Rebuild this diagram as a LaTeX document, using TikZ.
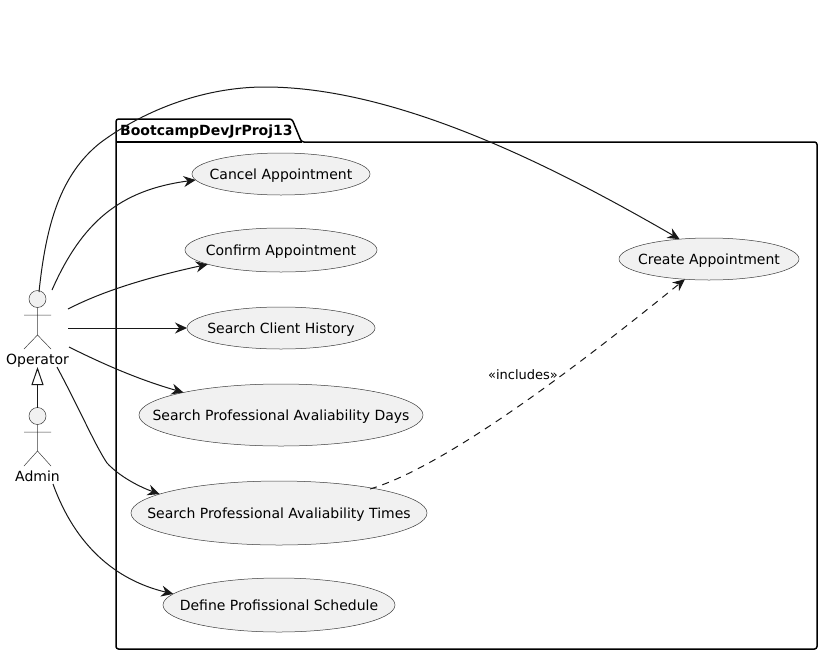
\documentclass[tikz,border=0pt]{standalone}
\usepackage{fontspec}
\setmainfont{DejaVu Sans}
\usetikzlibrary{shapes.geometric,arrows.meta}
\definecolor{umlfill}{HTML}{F1F1F1}
\definecolor{umlline}{HTML}{181818}
\definecolor{umledge}{HTML}{3C3C3C}
\tikzset{
  usecase/.style={ellipse,draw=umledge,fill=umlfill,line width=0.5pt,inner sep=0pt,outer sep=0pt},
  casetext/.style={inner sep=0pt,anchor=base,font=\fontsize{14}{16}\selectfont,text=black},
  actorpart/.style={draw=umledge,line width=0.5pt},
  actorhead/.style={circle,draw=umledge,fill=umlfill,line width=0.5pt,minimum size=17pt,inner sep=0pt,outer sep=0pt},
  actorname/.style={inner sep=0pt,anchor=base,font=\fontsize{14}{16}\selectfont},
  link/.style={draw=umlline,line width=1pt,-{Stealth[length=12pt,width=11pt,inset=4pt]}},
  dep/.style={link,dash pattern=on 7pt off 6pt},
  inherit/.style={draw=umlline,line width=1pt,-{Triangle[open,length=18pt,width=12pt,fill=white]}},
  pkg/.style={draw=black,line width=1.5pt,line join=round,rounded corners=2.5pt}
}
\newcommand{\ucase}[6]{%
  \node[usecase,minimum width=#4pt,minimum height=#5pt] (#1) at (#2,#3) {};
  \node[casetext] (#1text) at ([yshift=-5pt]#1.center) {#6};
}
\begin{document}
\begin{tikzpicture}[x=1pt,y=-1pt]
\useasboundingbox (0,0) rectangle (822,654);
\fill[white] (0,0) rectangle (822,654);
% package
\draw[pkg] (116,142) -- (116,119) -- (292,119) -- (301.5,142) -- (817,142) -- (817,649) -- (116,649) -- cycle;
\draw[pkg,rounded corners=0pt] (116,142) -- (301.5,142);
\node[inner sep=0pt,anchor=base west,font=\fontsize{14}{16}\selectfont\bfseries] (pkgname) at (120,135) {BootcampDevJrProj13};
% use cases
\ucase{cancel}{281}{174}{178}{42}{Cancel Appointment}
\ucase{confirm}{281}{250}{192}{44}{Confirm Appointment}
\ucase{history}{281}{328}{188}{42}{Search Client History}
\ucase{days}{281}{415}{284}{62}{Search Professional Avaliability Days}
\ucase{times}{279}{513}{296}{64}{Search Professional Avaliability Times}
\ucase{define}{279}{605}{232}{54}{Define Profissional Schedule}
\ucase{create}{709}{259}{180}{42}{Create Appointment}
% actors
\node[actorhead] (ophead) at (37.5,299) {};
\draw[actorpart] (ophead.south) -- (37.5,335) -- (24,349) (37.5,335) -- (51,349) (24,315) -- (51,315);
\node[actorname] (operator) at (37.5,364) {Operator};
\node[actorhead] (adhead) at (37.5,416) {};
\draw[actorpart] (adhead.south) -- (37.5,451) -- (24,466) (37.5,451) -- (51,466) (24,432) -- (51,432);
\node[actorname] (admin) at (37.5,481) {Admin};
% free ends
\coordinate (o1) at (39,292);
\coordinate (o2) at (52,290);
\coordinate (o3) at (68,309);
\coordinate (o4) at (68,328);
\coordinate (o5) at (69,347);
\coordinate (o6) at (57,367);
\coordinate (a1) at (53,484);
\coordinate (t1) at (370,489);
% connectors
\draw[inherit] (adhead.north) -- (37.5,367);
\draw[link] (o1) .. controls (46,225) and (60,175) .. (100,143) .. controls (140,113) and (200,87) .. (265,87) .. controls (400,87) and (560,170) .. (create.146);
\draw[link] (o2) .. controls (82,222) and (120,190) .. (cancel.184);
\draw[link] (o3) .. controls (105,290) and (150,277) .. (confirm.191);
\draw[link] (o4) -- (history.west);
\draw[link] (o5) .. controls (105,365) and (140,380) .. (days.167);
\draw[link] (o6) .. controls (80,410) and (95,445) .. (107,463) .. controls (120,477) and (140,487) .. (times.171);
\draw[link] (a1) .. controls (75,545) and (115,580) .. (define.174);
\draw[dep] (t1) .. controls (450,465) and (590,356) .. (create.220);
\node[inner sep=0pt,anchor=base,font=\fontsize{13}{15}\selectfont] (inc) at (523,379) {«includes»};
\end{tikzpicture}
\end{document}
